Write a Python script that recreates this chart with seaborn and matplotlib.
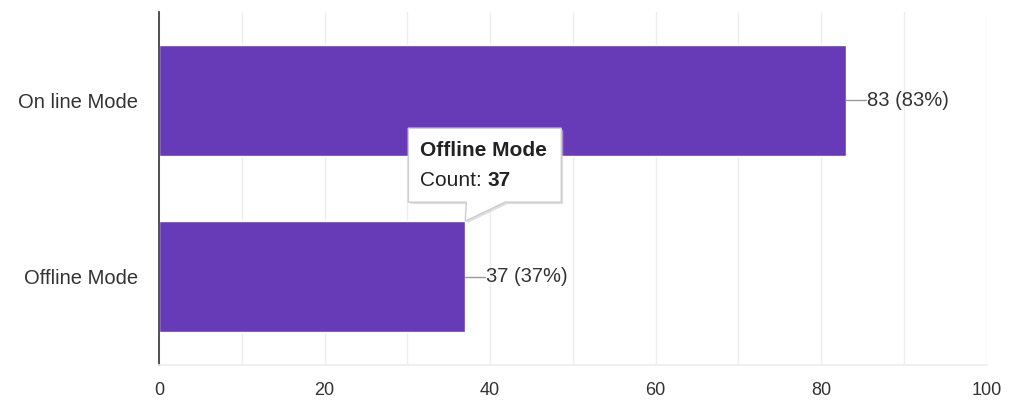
import numpy as np
import pandas as pd
import seaborn as sns
import matplotlib
matplotlib.use('Agg')
import matplotlib.pyplot as plt
import matplotlib.transforms as mtransforms
from matplotlib.patches import Polygon

sns.set_theme(style='white')
plt.rcParams['font.family'] = ['Liberation Sans', 'DejaVu Sans']

modes = ['On line Mode', 'Offline Mode']
counts = [83, 37]
total = 100
xticks = [0, 20, 40, 60, 80, 100]

purple = '#673ab7'
txt = '#333333'

df = pd.DataFrame({'mode': modes, 'count': counts})

fig = plt.figure(figsize=(10.13, 4.0), dpi=100)
ax = fig.add_axes([0.157, 0.0875, 0.817, 0.8825])

sns.barplot(data=df, y='mode', x='count', orient='h', color=purple,
            saturation=1, width=0.63, ax=ax)

ax.set_xlim(0, 100)
ax.set_ylim(1.5, -0.5)
ax.set_xticks(xticks)
ax.set_xticks(np.arange(10, 100, 20), minor=True)
ax.grid(axis='x', which='both', color='#eeeeee', lw=1)
ax.set_axisbelow(True)
ax.set_xlabel('')
ax.set_ylabel('')
for s in ['top', 'right']:
    ax.spines[s].set_visible(False)
ax.spines['bottom'].set_color('#eeeeee')
ax.spines['left'].set_color('#333333')
ax.spines['left'].set_linewidth(1.2)
ax.tick_params(axis='x', which='both', length=0, pad=12, labelsize=13, labelcolor=txt)
ax.tick_params(axis='y', length=0, pad=15, labelsize=14.5, labelcolor=txt)

# value labels with leader lines
for i, c in enumerate(counts):
    p = mtransforms.ScaledTranslation(c, i, ax.transData)
    tr = fig.dpi_scale_trans + p
    ax.plot([0, 0.2], [0, 0], color='#999999', lw=1, transform=tr, clip_on=False)
    ax.text(0.21, 0, f'{c} ({c * 100 // total}%)', transform=tr, va='center',
            ha='left', fontsize=14.5, color=txt)

# tooltip for Offline Mode
tip = mtransforms.ScaledTranslation(counts[1], 1 - 0.315, ax.transData)
tr = fig.dpi_scale_trans + tip
verts = [(-0.57, 0.19), (0.01, 0.19), (0.0, 0.0), (0.40, 0.19),
         (0.96, 0.19), (0.96, 0.93), (-0.57, 0.93)]
shadow = Polygon([(x + 0.02, y - 0.02) for x, y in verts], closed=True,
                 transform=tr, facecolor='#cccccc', edgecolor='none',
                 alpha=0.6, clip_on=False, zorder=5)
box = Polygon(verts, closed=True, transform=tr, facecolor='white',
              edgecolor='#cccccc', lw=1, clip_on=False, zorder=6)
ax.add_patch(shadow)
ax.add_patch(box)
ax.text(-0.45, 0.71, modes[1], transform=tr, fontsize=15, fontweight='bold',
        color='#222222', va='center', ha='left', zorder=7)
t1 = ax.text(-0.45, 0.41, 'Count: ', transform=tr, fontsize=15,
             color='#222222', va='center', ha='left', zorder=7)
ax.annotate(str(counts[1]), xycoords=t1, xy=(1, 0.5), va='center', ha='left',
            fontsize=15, fontweight='bold', color='#222222', zorder=7)

fig.savefig('out.png', dpi=100)
